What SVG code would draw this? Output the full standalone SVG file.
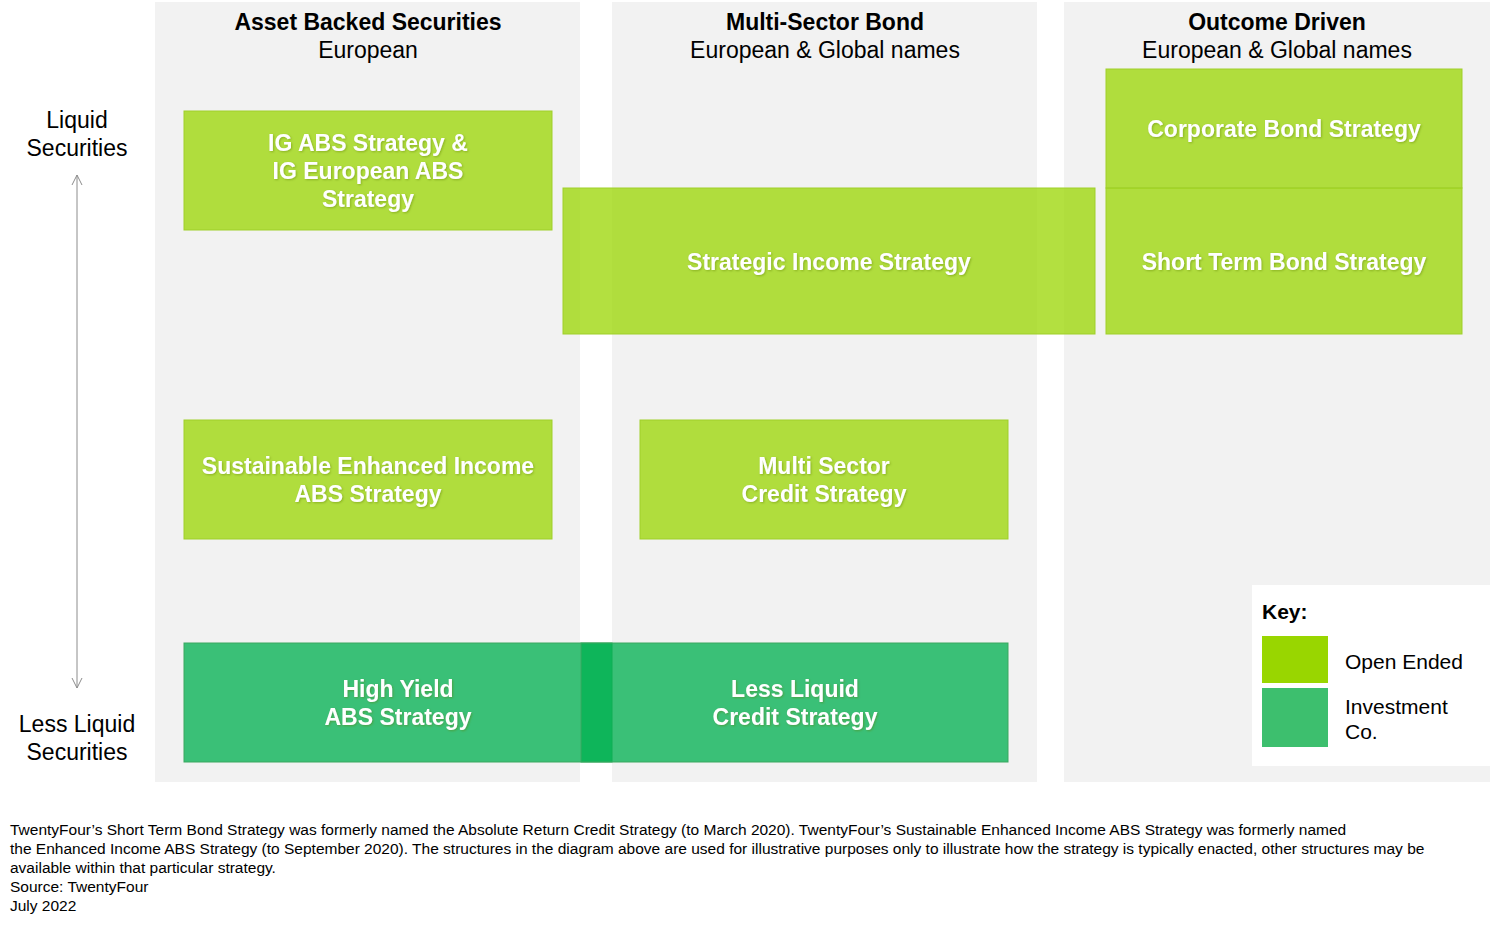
<svg xmlns="http://www.w3.org/2000/svg" width="1500" height="925" viewBox="0 0 1500 925">
<defs>
<style>
.col{fill:#f2f2f2}
.oe{fill:#99d600;fill-opacity:0.75;stroke:#9fcf2a;stroke-width:1}
.ic{fill:#00b050;fill-opacity:0.76;stroke:#3aa860;stroke-width:1}
.bt{font-family:"Liberation Sans",Arial,sans-serif;font-weight:bold;font-size:23px;fill:#ffffff;text-anchor:middle;dominant-baseline:central;filter:url(#sh)}
.hb{font-family:"Liberation Sans",Arial,sans-serif;font-weight:bold;font-size:23px;fill:#000;text-anchor:middle;dominant-baseline:central}
.hr{font-family:"Liberation Sans",Arial,sans-serif;font-size:23px;fill:#000;text-anchor:middle;dominant-baseline:central}
.kt{font-family:"Liberation Sans",Arial,sans-serif;font-size:21px;fill:#000;dominant-baseline:central}
.ft{font-family:"Liberation Sans",Arial,sans-serif;font-size:15.5px;fill:#000}
</style>
<filter id="sh" x="-10%" y="-30%" width="120%" height="160%">
<feDropShadow dx="1" dy="1" stdDeviation="1" flood-color="#5a7a10" flood-opacity="0.45"/>
</filter>
<marker id="ah" viewBox="0 0 12 12" refX="11" refY="6" markerWidth="12" markerHeight="12" markerUnits="userSpaceOnUse" orient="auto-start-reverse">
<path d="M1,1 L11,6 L1,11" fill="none" stroke="#8c8c8c" stroke-width="1"/>
</marker>
</defs>
<rect x="0" y="0" width="1500" height="925" fill="#ffffff"/>
<g id="columns">
<rect class="col" x="155" y="2" width="425" height="780"/>
<rect class="col" x="612" y="2" width="425" height="780"/>
<rect class="col" x="1064" y="2" width="426" height="780"/>
<text class="hb" x="368" y="22">Asset Backed Securities</text>
<text class="hr" x="368" y="50">European</text>
<text class="hb" x="825" y="22">Multi-Sector Bond</text>
<text class="hr" x="825" y="50">European &amp; Global names</text>
<text class="hb" x="1277" y="22">Outcome Driven</text>
<text class="hr" x="1277" y="50">European &amp; Global names</text>
</g>
<g id="axis-labels">
<text class="hr" x="77" y="120">Liquid</text>
<text class="hr" x="77" y="148">Securities</text>
<text class="hr" x="77" y="724">Less Liquid</text>
<text class="hr" x="77" y="752">Securities</text>
</g>
<g id="connectors">
<line x1="77" y1="175" x2="77" y2="688" stroke="#8c8c8c" stroke-width="1" marker-start="url(#ah)" marker-end="url(#ah)"/>
</g>
<g id="node-ig-abs">
<rect class="oe" x="184" y="111" width="368" height="119"/>
<text class="bt" x="368" y="143">IG ABS Strategy &amp;</text>
<text class="bt" x="368" y="171">IG European ABS</text>
<text class="bt" x="368" y="199">Strategy</text>
</g>
<g id="node-corporate-bond">
<rect class="oe" x="1106" y="69" width="356" height="119"/>
<text class="bt" x="1284" y="129">Corporate Bond Strategy</text>
</g>
<g id="node-strategic-income">
<rect class="oe" x="563" y="188" width="532" height="146"/>
<text class="bt" x="829" y="262">Strategic Income Strategy</text>
</g>
<g id="node-short-term-bond">
<rect class="oe" x="1106" y="188" width="356" height="146"/>
<text class="bt" x="1284" y="262">Short Term Bond Strategy</text>
</g>
<g id="node-sustainable">
<rect class="oe" x="184" y="420" width="368" height="119"/>
<text class="bt" x="368" y="466">Sustainable Enhanced Income</text>
<text class="bt" x="368" y="494">ABS Strategy</text>
</g>
<g id="node-multi-sector-credit">
<rect class="oe" x="640" y="420" width="368" height="119"/>
<text class="bt" x="824" y="466">Multi Sector</text>
<text class="bt" x="824" y="494">Credit Strategy</text>
</g>
<g id="node-high-yield">
<rect class="ic" x="184" y="643" width="428" height="119"/>
<text class="bt" x="398" y="689">High Yield</text>
<text class="bt" x="398" y="717">ABS Strategy</text>
</g>
<g id="node-less-liquid">
<rect class="ic" x="581" y="643" width="427" height="119"/>
<text class="bt" x="795" y="689">Less Liquid</text>
<text class="bt" x="795" y="717">Credit Strategy</text>
</g>
<g id="key">
<rect x="1252" y="585" width="238" height="181" fill="#ffffff"/>
<text class="kt" x="1262" y="611" font-weight="bold" font-size="22px">Key:</text>
<rect x="1262" y="636" width="66" height="47" fill="#99d600"/>
<rect x="1262" y="688" width="66" height="59" fill="#3dbf6e"/>
<text class="kt" x="1345" y="661">Open Ended</text>
<text class="kt" x="1345" y="706">Investment</text>
<text class="kt" x="1345" y="731">Co.</text>
</g>
<g id="footer">
<text class="ft" x="10" y="835">TwentyFour’s Short Term Bond Strategy was formerly named the Absolute Return Credit Strategy (to March 2020). TwentyFour’s Sustainable Enhanced Income ABS Strategy was formerly named</text>
<text class="ft" x="10" y="854">the Enhanced Income ABS Strategy (to September 2020). The structures in the diagram above are used for illustrative purposes only to illustrate how the strategy is typically enacted, other structures may be</text>
<text class="ft" x="10" y="873">available within that particular strategy.</text>
<text class="ft" x="10" y="892">Source: TwentyFour</text>
<text class="ft" x="10" y="911">July 2022</text>
</g>
</svg>
